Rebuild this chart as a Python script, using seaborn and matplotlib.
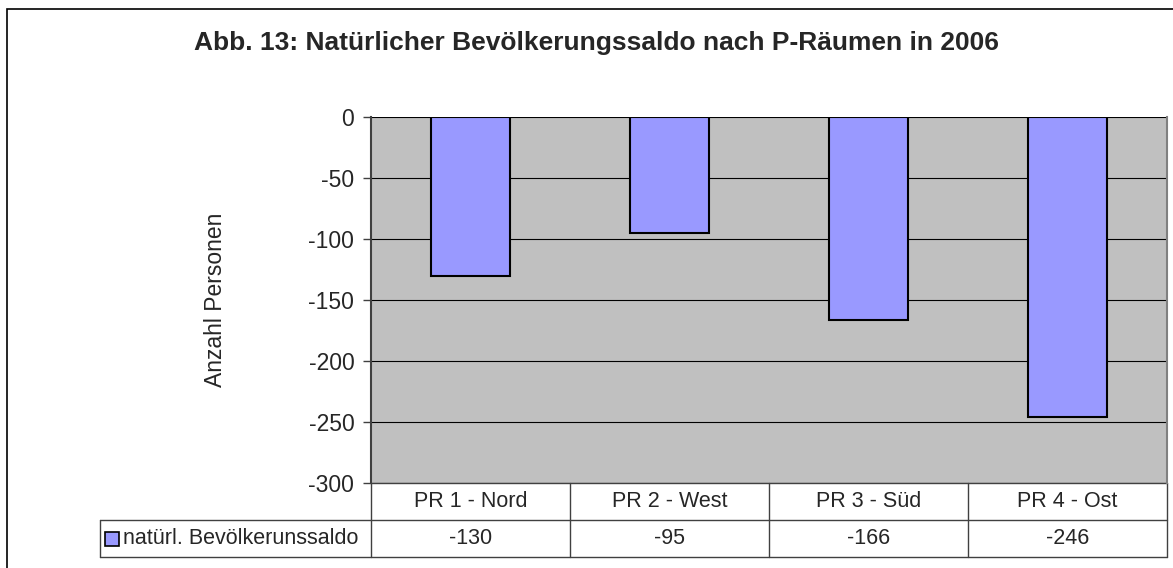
import matplotlib
matplotlib.use("Agg")
import matplotlib.pyplot as plt
import seaborn as sns
import pandas as pd
from matplotlib.patches import Rectangle
from matplotlib.lines import Line2D

# data
regions = ["PR 1 - Nord", "PR 2 - West", "PR 3 - Süd", "PR 4 - Ost"]
saldo = [-130, -95, -166, -246]
series_name = "natürl. Bevölkerunssaldo"
yticks = [0, -50, -100, -150, -200, -250, -300]

df = pd.DataFrame({"region": regions, "saldo": saldo})

sns.set_style("white")
plt.rcParams["font.family"] = ["Liberation Sans", "DejaVu Sans"]

W, H = 1173, 568
fig = plt.figure(figsize=(W / 100, H / 100), dpi=100)
ax = fig.add_axes([371 / W, 1 - 483 / H, 796 / W, 366 / H])
ax.set_facecolor("#C0C0C0")

sns.barplot(data=df, x="region", y="saldo", color="#9999FF", width=0.4,
            edgecolor="black", linewidth=1.5, saturation=1, ax=ax, zorder=3)

ax.set_ylim(-300, 0)
ax.set_xlim(-0.5, 3.5)
ax.set_yticks(yticks)
ax.set_yticklabels([str(t) for t in yticks], fontsize=16.5)
ax.tick_params(axis="y", length=6, width=1, color="#404040", pad=6, left=True)
ax.set_xticks([])
ax.set_xlabel("")
ax.set_ylabel("")
for t in yticks:
    ax.axhline(t, color="black", linewidth=0.8, zorder=1)
for s in ["top", "bottom"]:
    ax.spines[s].set_visible(False)
ax.spines["left"].set_color("#404040")
ax.spines["left"].set_linewidth(1.5)
ax.spines["right"].set_color("#808080")
ax.spines["right"].set_linewidth(1.5)

fig.text(215 / W, 1 - 300 / H, "Anzahl Personen", rotation=90, ha="center", va="center",
         fontsize=16.5)

# data table below the axis
tr = ax.get_xaxis_transform()
left_x = -0.5 - (371 - 100) / 796 * 4
r1 = -37 / 366
r2 = -74 / 366
kw = dict(color="#404040", linewidth=1, transform=tr, clip_on=False)
ax.add_line(Line2D([-0.5, 3.5], [0, 0], **kw))
ax.add_line(Line2D([left_x, 3.5], [r1, r1], **kw))
ax.add_line(Line2D([left_x, 3.5], [r2, r2], **kw))
ax.add_line(Line2D([left_x, left_x], [r1, r2], **kw))
for xv in [-0.5, 0.5, 1.5, 2.5, 3.5]:
    ax.add_line(Line2D([xv, xv], [0, r2], **kw))
for i, (name, val) in enumerate(zip(regions, saldo)):
    ax.text(i, r1 / 2, name, ha="center", va="center", fontsize=15.5, transform=tr)
    ax.text(i, (r1 + r2) / 2, str(val), ha="center", va="center", fontsize=15.5, transform=tr)
px = 4 / 796
sw_h = 14 / 366
mid = (r1 + r2) / 2
ax.add_patch(Rectangle((left_x + 5 * px, mid - sw_h / 2), 14 * px, sw_h,
                       facecolor="#9999FF", edgecolor="black", linewidth=1.2,
                       transform=tr, clip_on=False))
ax.text(left_x + 23 * px, mid, series_name, ha="left", va="center",
        fontsize=15.5, transform=tr)

fig.text(597 / W, 1 - 43 / H, "Abb. 13: Natürlicher Bevölkerungssaldo nach P-Räumen in 2006",
         ha="center", va="center", fontsize=19, fontweight="bold")

# outer chart border
fig.add_artist(Rectangle((7 / W, -0.1), 1.2, 1 - 9 / H + 0.1, transform=fig.transFigure,
                         fill=False, edgecolor="black", linewidth=1.2))

fig.savefig("out.png", dpi=100)
